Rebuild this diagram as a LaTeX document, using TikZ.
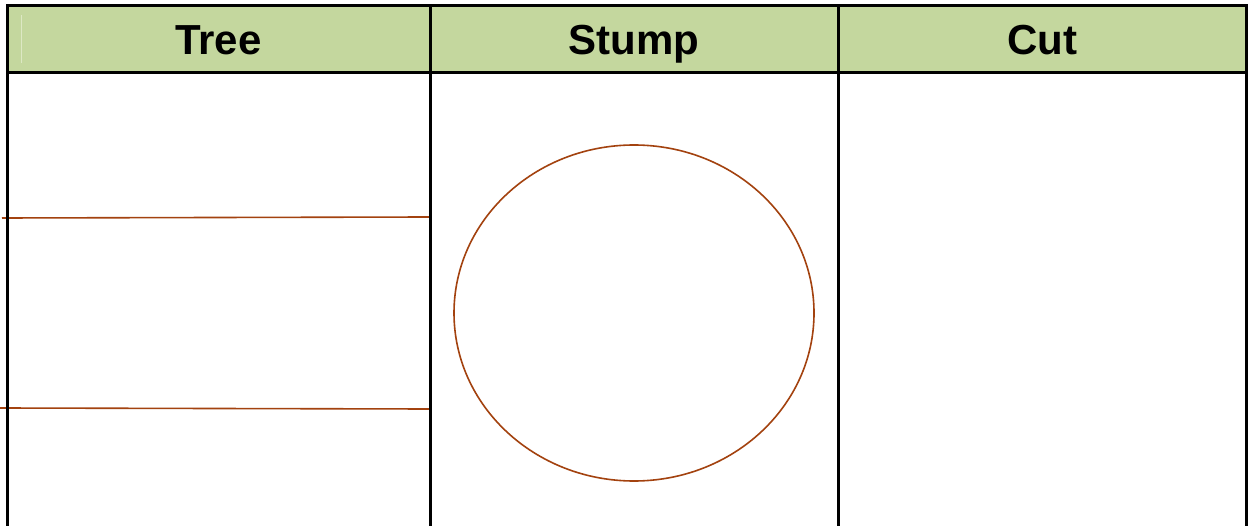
\documentclass[tikz,border=0pt]{standalone}
\usepackage{fontspec}
\usetikzlibrary{shapes.geometric}
\setmainfont{Liberation Sans}
\definecolor{hdrgreen}{HTML}{C4D79E}
\definecolor{hdrlight}{HTML}{DDE8C4}
\definecolor{rust}{HTML}{A3420F}
\tikzset{
  border/.style={line width=3pt, draw=black},
  rustline/.style={line width=1.6pt, draw=rust},
  hdrtext/.style={font=\fontsize{42}{46}\selectfont\bfseries, anchor=base}
}
\begin{document}
\begin{tikzpicture}[x=1pt,y=-1pt]
\useasboundingbox (0,0) rectangle (1249,526);
\fill[white] (0,0) rectangle (1249,526);
% header fill
\fill[hdrgreen] (7,6) rectangle (1246,73);
\draw[line width=1pt, hdrlight] (21,15) -- (21,63);
% header texts
\node[hdrtext] (t1) at (218.5,55) {Tree};
\node[hdrtext] (t2) at (634,55) {Stump};
\node[hdrtext] (t3) at (1042,55) {Cut};
% brown lines and circle
\coordinate (l1a) at (2,218);
\coordinate (l1b) at (430,217);
\coordinate (l2a) at (0,408);
\coordinate (l2b) at (430,409);
\draw[rustline] (l1a) -- (l1b);
\draw[rustline] (l2a) -- (l2b);
\node[rustline, ellipse, inner sep=0pt, outer sep=0pt, minimum width=360pt, minimum height=336pt] (stump) at (634,313) {};
% borders
\draw[border] (7,527) -- (7,6) -- (1246,6) -- (1246,527);
\draw[border] (7,73) -- (1246,73);
\draw[border] (430,6) -- (430,527);
\draw[border] (838,6) -- (838,527);
\end{tikzpicture}
\end{document}
